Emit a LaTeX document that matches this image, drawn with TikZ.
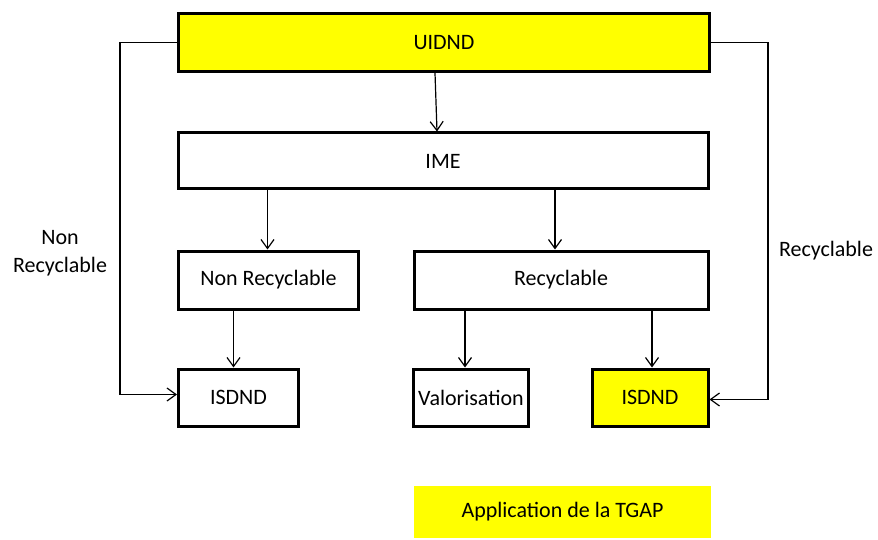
\documentclass[tikz,border=0pt]{standalone}
\usepackage{fontspec}
\setmainfont{Carlito}
\usetikzlibrary{arrows.meta}
\definecolor{boxyellow}{RGB}{255,255,0}

\tikzset{
  box/.style={draw, line width=3pt, inner sep=0pt, font=\fontsize{22}{26}\selectfont},
  flow/.style={line width=1.2pt, -{Straight Barb[length=9pt,width=13pt,line width=1.2pt]}},
}

\begin{document}
\begin{tikzpicture}[x=1pt, y=-1pt]
\useasboundingbox (0,0) rectangle (878,540);
\node[box, fill=boxyellow, minimum width=531pt, minimum height=58pt] (uidnd) at (444, 42.5) {UIDND};
\node[box, minimum width=530pt, minimum height=56pt] (ime) at (443, 161) {IME};
\node[box, minimum width=180pt, minimum height=58pt] (nonrec) at (268.5, 280) {Non Recyclable};
\node[box, minimum width=294pt, minimum height=58pt] (rec) at (561, 280) {Recyclable};
\node[box, minimum width=120pt, minimum height=57pt] (isdndA) at (238.5, 397.5) {ISDND};
\node[box, minimum width=115pt, minimum height=57pt] (valo) at (471, 397.5) {Valorisation};
\node[box, fill=boxyellow, minimum width=116pt, minimum height=57pt] (isdndB) at (650, 397.5) {ISDND};
\node[fill=boxyellow, minimum width=297pt, minimum height=52pt, inner sep=0pt, font=\fontsize{22}{26}\selectfont] (tgap) at (562.5, 512) {Application de la TGAP};
\node[align=center, font=\fontsize{22}{28}\selectfont] (lblnon) at (60, 253) {Non\\Recyclable};
\node[font=\fontsize{22}{26}\selectfont] (lblrec) at (826, 251) {Recyclable};
\draw[flow] ([xshift=-9pt]uidnd.south) -- ([xshift=-6pt]ime.north);
\draw[flow] ([xshift=-1pt]nonrec.north |- ime.south) -- ([xshift=-1pt]nonrec.north);
\draw[flow] ([xshift=-6pt]rec.north |- ime.south) -- ([xshift=-6pt]rec.north);
\draw[flow] ([xshift=-5pt]isdndA.north |- nonrec.south) -- ([xshift=-5pt]isdndA.north);
\draw[flow] ([xshift=-6pt]valo.north |- rec.south) -- ([xshift=-6pt]valo.north);
\draw[flow] ([xshift=2pt]isdndB.north |- rec.south) -- ([xshift=2pt]isdndB.north);
\draw[flow] (uidnd.west) -- ++(-57,0) |- ([yshift=3pt]isdndA.west);
\draw[flow] (uidnd.east) -- ++(57,0) |- ([yshift=-2pt]isdndB.east);
\end{tikzpicture}
\end{document}
